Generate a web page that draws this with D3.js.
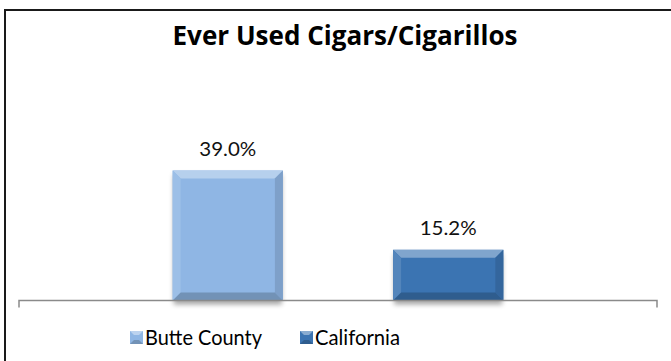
<!DOCTYPE html>
<html>
<head>
<meta charset="utf-8">
<script src="https://cdn.jsdelivr.net/npm/d3@7"></script>
<style>
  body { margin: 0; background: #fff; }
  svg { display: block; }
</style>
</head>
<body>
<div id="chart"></div>
<script>
const TITLE = "Ever Used Cigars/Cigarillos";
const SERIES = ["Butte County", "California"];
const VALUES = [39.0, 15.2];
const LABELS = ["39.0%", "15.2%"];
const COLORS = { "Butte County": "#8fb6e4", "California": "#3b74b2" };

const width = 671, height = 361;
const svg = d3.select("#chart").append("svg")
  .attr("width", width).attr("height", height);

const defs = svg.append("defs");
defs.append("filter").attr("id", "shadow")
  .attr("x", "-20%").attr("y", "-20%").attr("width", "140%").attr("height", "140%")
  .append("feGaussianBlur").attr("stdDeviation", 2.5);

// frame (only left and top edges are inside the picture)
svg.append("path")
  .attr("d", "M5,370 L5,10 L680,10")
  .attr("fill", "none").attr("stroke", "#1a1a1a").attr("stroke-width", 2);

// Title
const title = svg.append("text")
  .attr("x", 345).attr("y", 45)
  .attr("text-anchor", "middle")
  .attr("font-family", "'Open Sans', 'Noto Sans', sans-serif")
  .attr("font-weight", "bold")
  .attr("font-size", 24)
  .attr("fill", "#000")
  .text(TITLE);
const tw = title.node().getComputedTextLength();
title.attr("font-size", 24 * 345 / tw);

const axisLeft = 19, axisRight = 657, baseY = 300.5;

const x = d3.scaleBand().domain(SERIES)
  .range([axisLeft, axisRight])
  .paddingInner(0.5).paddingOuter(0.697);
const y = d3.scaleLinear().domain([0, 45]).range([baseY, baseY - 45 * 3.333]);

const data = SERIES.map((s, i) => ({ key: s, value: VALUES[i], label: LABELS[i] }));

const barsG = svg.append("g");
const bevel = 8;

data.forEach(d => {
  const bx = x(d.key), bw = x.bandwidth();
  const by = y(d.value), bh = y(0) - y(d.value);
  const base = d3.color(COLORS[d.key]);
  const g = barsG.append("g");

  // shadow
  g.append("rect")
    .attr("x", bx + 1).attr("y", by + 4).attr("width", bw - 2).attr("height", bh)
    .attr("fill", "#000").attr("opacity", 0.35).attr("filter", "url(#shadow)");

  g.append("rect")
    .attr("x", bx).attr("y", by).attr("width", bw).attr("height", bh)
    .attr("fill", base);

  const pts = (arr) => arr.map(p => p.join(",")).join(" ");
  // top face
  g.append("polygon")
    .attr("points", pts([[bx, by], [bx + bw, by], [bx + bw - bevel, by + bevel], [bx + bevel, by + bevel]]))
    .attr("fill", d3.interpolateRgb(base, "#ffffff")(0.35));
  // left face
  g.append("polygon")
    .attr("points", pts([[bx, by], [bx + bevel, by + bevel], [bx + bevel, by + bh - bevel], [bx, by + bh]]))
    .attr("fill", d3.interpolateRgb(base, "#ffffff")(0.12));
  // right face
  g.append("polygon")
    .attr("points", pts([[bx + bw, by], [bx + bw, by + bh], [bx + bw - bevel, by + bh - bevel], [bx + bw - bevel, by + bevel]]))
    .attr("fill", d3.interpolateRgb(base, "#000000")(0.12));
  // bottom face
  g.append("polygon")
    .attr("points", pts([[bx, by + bh], [bx + bevel, by + bh - bevel], [bx + bw - bevel, by + bh - bevel], [bx + bw, by + bh]]))
    .attr("fill", d3.interpolateRgb(base, "#000000")(0.2));

  // value label
  svg.append("text")
    .attr("x", bx + bw / 2).attr("y", by - 15)
    .attr("text-anchor", "middle")
    .attr("font-family", "Lato, 'DejaVu Sans', sans-serif")
    .attr("font-size", 20)
    .attr("textLength", 57).attr("lengthAdjust", "spacingAndGlyphs")
    .attr("fill", "#111")
    .text(d.label);
});

// category axis
svg.append("path")
  .attr("d", `M${axisLeft},${baseY + 7} L${axisLeft},${baseY} L${axisRight},${baseY} L${axisRight},${baseY + 7}`)
  .attr("fill", "none").attr("stroke", "#8a8a8a").attr("stroke-width", 1.5);

// legend
const legendItems = [
  { key: "Butte County", x: 130, len: 117 },
  { key: "California", x: 300, len: 85 }
];
legendItems.forEach(item => {
  const base = d3.color(COLORS[item.key]);
  const g = svg.append("g").attr("transform", `translate(${item.x},331)`);
  g.append("rect").attr("width", 13).attr("height", 13).attr("fill", base);
  g.append("polygon").attr("points", "0,0 13,0 9,4 4,4")
    .attr("fill", d3.interpolateRgb(base, "#ffffff")(0.4));
  g.append("polygon").attr("points", "0,13 4,9 9,9 13,13")
    .attr("fill", d3.interpolateRgb(base, "#000000")(0.2));
  g.append("text")
    .attr("x", 15).attr("y", 13.5)
    .attr("font-family", "Lato, 'DejaVu Sans', sans-serif")
    .attr("font-size", 22)
    .attr("textLength", item.len).attr("lengthAdjust", "spacingAndGlyphs")
    .attr("fill", "#000")
    .text(item.key);
});
</script>
</body>
</html>
